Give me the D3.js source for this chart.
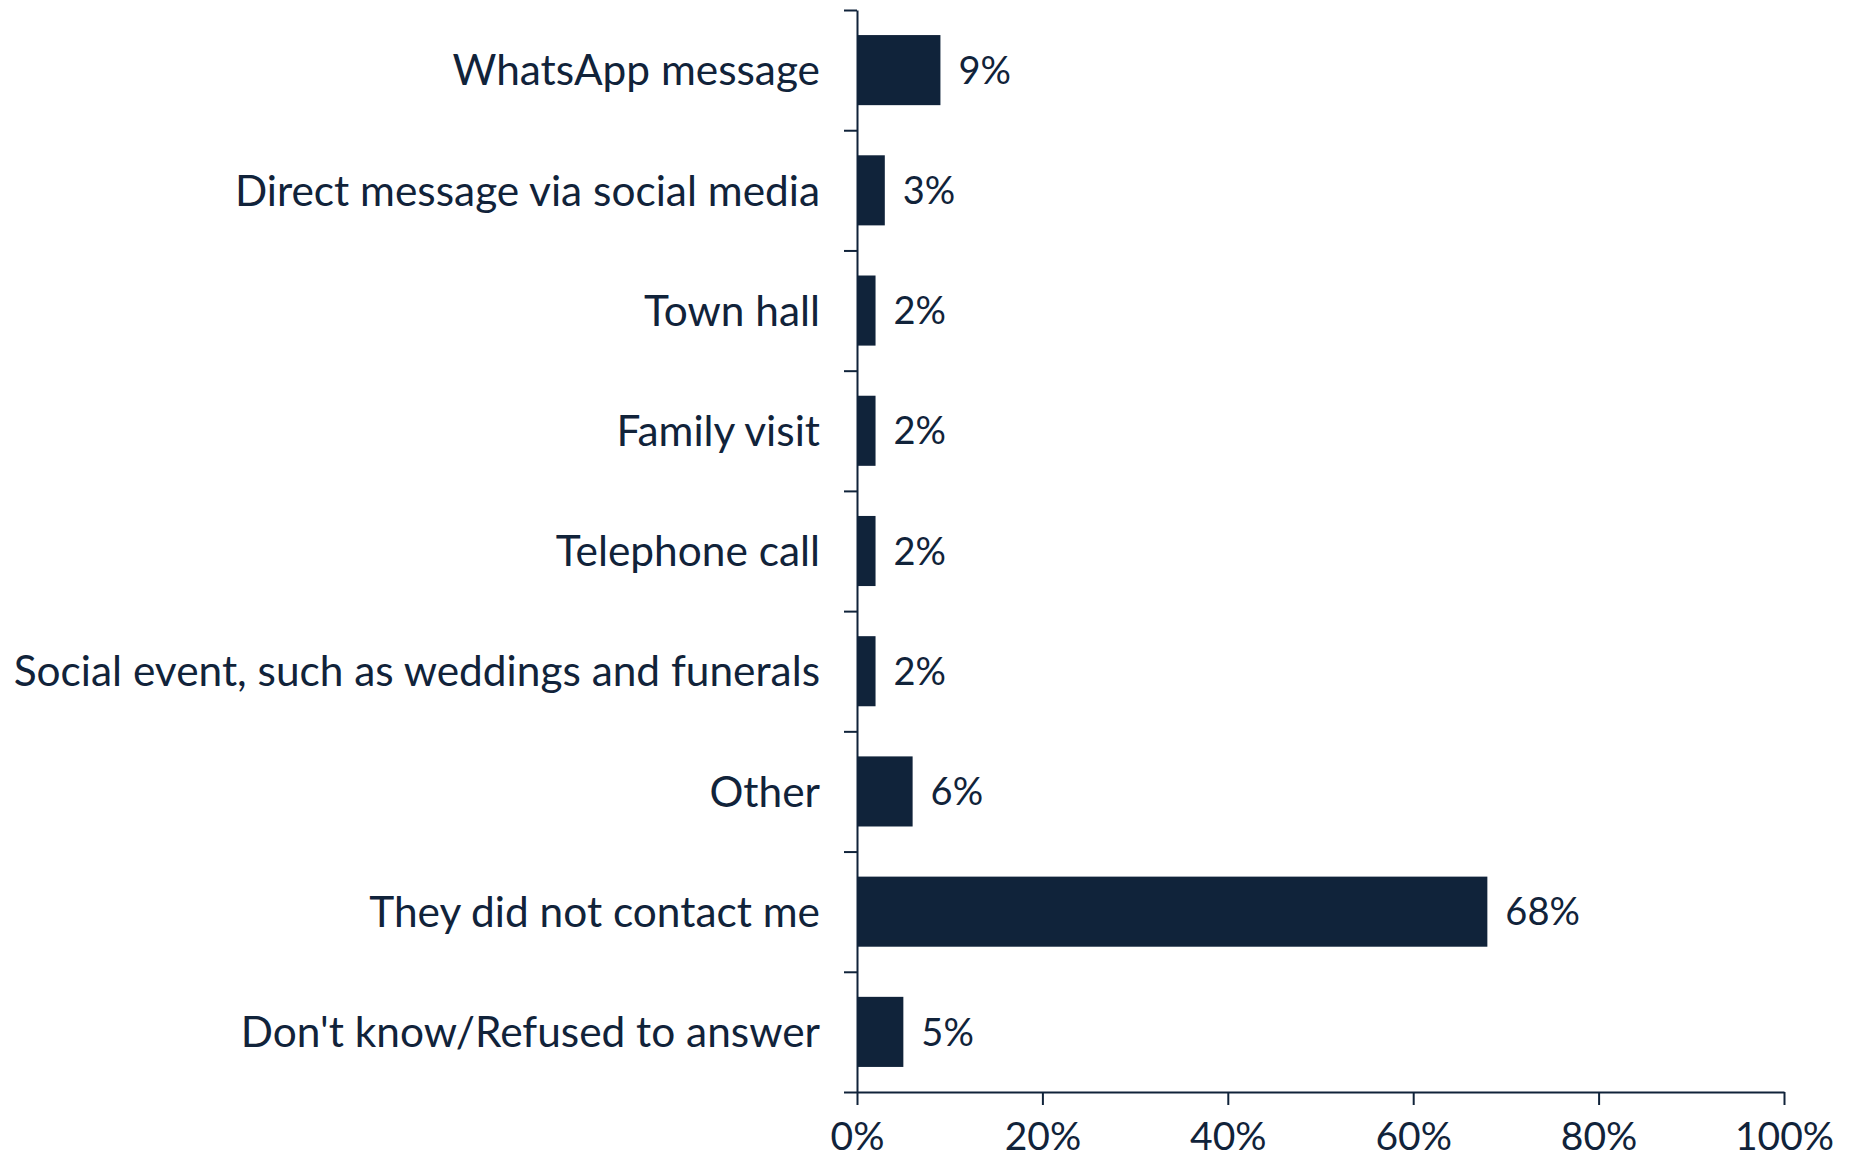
<!DOCTYPE html>
<html>
<head>
<meta charset="utf-8">
<script src="https://cdn.jsdelivr.net/npm/d3@7"></script>
<style>
  body { margin: 0; background: #fff; }
  text { font-family: Lato, "Open Sans", sans-serif; fill: #11233a; }
</style>
</head>
<body>
<div id="chart"></div>
<script>
// survey answers, top to bottom
var categories = ["WhatsApp message", "Direct message via social media", "Town hall", "Family visit",
  "Telephone call", "Social event, such as weddings and funerals", "Other",
  "They did not contact me", "Don't know/Refused to answer"];
var values = [9, 3, 2, 2, 2, 2, 6, 68, 5];
var xTicks = [0, 20, 40, 60, 80, 100];

var color = "#10233a";
var W = 1849, H = 1161;
var mLeft = 857, mRight = 1784, mTop = 10, mBottom = 1092;

var svg = d3.select("#chart").append("svg")
  .attr("width", W)
  .attr("height", H);

var x = d3.scaleLinear().domain([0, 100]).range([mLeft, mRight]);
var y = d3.scaleBand().domain(categories).range([mTop, mBottom]).paddingInner(0.417).paddingOuter(0.2085);
// boundaries between categories, for the y tick marks
var yEdge = d3.scaleLinear().domain([0, categories.length]).range([mTop, mBottom]);

// y axis: line with ticks between categories
var gy = svg.append("g")
  .attr("transform", "translate(" + mLeft + ",0)")
  .call(d3.axisLeft(yEdge).tickValues(d3.range(categories.length + 1)).tickFormat("").tickSize(13).tickSizeOuter(0));
gy.select(".domain").attr("stroke", color).attr("stroke-width", 2);
gy.selectAll(".tick line").attr("stroke", color).attr("stroke-width", 2);

// x axis
var gx = svg.append("g")
  .attr("transform", "translate(0," + mBottom + ")")
  .call(d3.axisBottom(x).tickValues(xTicks).tickFormat(function(d) { return d + "%"; }).tickSize(13).tickSizeOuter(0).tickPadding(17));
gx.select(".domain").attr("stroke", color).attr("stroke-width", 2);
gx.selectAll(".tick line").attr("stroke", color).attr("stroke-width", 2);
gx.selectAll(".tick text").style("font-size", "39px").attr("fill", color).attr("font-family", "Lato");

// category labels
svg.selectAll(".cat")
  .data(categories)
  .enter().append("text")
  .attr("class", "cat")
  .attr("x", mLeft - 37)
  .attr("y", function(d) { return y(d) + y.bandwidth() / 2; })
  .attr("dy", "0.36em")
  .attr("text-anchor", "end")
  .style("font-size", "42.4px")
  .text(function(d) { return d; });

// bars
svg.selectAll(".bar")
  .data(values)
  .enter().append("rect")
  .attr("class", "bar")
  .attr("x", x(0))
  .attr("y", function(d, i) { return y(categories[i]); })
  .attr("width", function(d) { return x(d) - x(0); })
  .attr("height", y.bandwidth())
  .attr("fill", color);

// value labels
svg.selectAll(".val")
  .data(values)
  .enter().append("text")
  .attr("class", "val")
  .attr("x", function(d) { return x(d) + 18; })
  .attr("y", function(d, i) { return y(categories[i]) + y.bandwidth() / 2; })
  .attr("dy", "0.36em")
  .style("font-size", "38px")
  .text(function(d) { return d + "%"; });
</script>
</body>
</html>
